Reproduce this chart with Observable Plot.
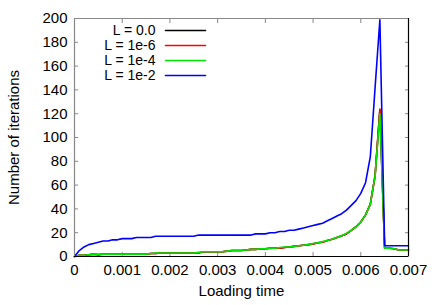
<!DOCTYPE html>
<html>
<head>
<meta charset="utf-8">
<script src="https://cdn.jsdelivr.net/npm/d3@7"></script>
<script src="https://cdn.jsdelivr.net/npm/@observablehq/plot@0.6"></script>
<style>
  html, body { margin: 0; padding: 0; background: #fff; }
  svg { font-family: "Liberation Sans", Arial, sans-serif; }
</style>
</head>
<body>
<div id="chart"></div>
<script>
// Loading time samples (x)
const times = d3.range(0, 71).map(i => +(i * 0.0001).toFixed(4));

// Number of iterations for each series
const iterL0 = [0,1,1,1.5,2,1.5,2,2,2,2, 2,2,2,2,2,2,2.5,2.5,3,3, 3,3,3,3,3,3,3,4,4,4, 4,4,4.5,5,5,5,5.5,6,6,6.5, 6.5,7,7,7,7.5,8,8.5,9,9.5,10, 10.5,11.5,12,13.5,14.5,16,17.5,19,22,25, 29,35,44,68,123,7,7,6.5,5.5,5.5, 5.5];
const iterL6 = [0,1,1,1.5,2,1.5,2,2,2,2, 2,2,2,2,2,2,2.5,2.5,3,3, 3,3,3,3,3,3,3,4,4,4, 4,4,4.5,5,5,5,5.5,6,6,6.5, 6.5,7,7,7,7.5,8,8.5,9,9.5,10, 10.5,11.5,12,13.5,14.5,16,17.5,19,22,25, 29,35,44,68,124,7,7,6.5,5.5,5.5, 5.5];
const iterL4 = [0,1,1,1.5,2,2,2,2,2,2, 2,2,2,2,2,2,2.5,3,3,3, 3,3,3,3,3,3,3.5,4,4,4, 4,4,4.5,5,5,5,5.5,6,6,6.5, 6.5,7,7,7.5,8,8,8.5,9,9.5,10, 11,11.5,12.5,13.5,14.5,16,17.5,19.5,22,25, 29,35,44,68,120,7,7,6.5,5.5,5.5, 5.5];
const iterL2 = [0,5,8,10,11,12,13,13,14,14, 15,15,15,16,16,16,16,17,17,17, 17,17,17,17,17,17,18,18,18,18, 18,18,18,18,18,18,18,18,19,19, 19,20,20,21,21,22,22,23,24,25, 26,27,28,30,32,34,36,39,43,47, 53,62,84,142,199,9,9,9,9,9, 9];

const seriesLabels = ["L = 0.0", "L = 1e-6", "L = 1e-4", "L = 1e-2"];
const seriesColors = ["#000000", "#ff0000", "#00e600", "#0000ff"];
const seriesValues = [iterL0, iterL6, iterL4, iterL2];

const xTicks = [0, 0.001, 0.002, 0.003, 0.004, 0.005, 0.006, 0.007];
const xTickLabels = ["0", "0.001", "0.002", "0.003", "0.004", "0.005", "0.006", "0.007"];
const yTicks = [0, 20, 40, 60, 80, 100, 120, 140, 160, 180, 200];

const rows = [];
seriesValues.forEach((vals, s) => {
  vals.forEach((v, i) => rows.push({series: seriesLabels[s], t: times[i], n: v}));
});

const lineShape = {draw(ctx, l) { ctx.moveTo(0, 0); ctx.lineTo(0, -l); }};

const legendMarks = [];
seriesLabels.forEach((lab, i) => {
  legendMarks.push(Plot.text([lab], {
    frameAnchor: "top-left", text: d => d, dx: 81, dy: 12 + i * 15,
    textAnchor: "end", lineAnchor: "middle", fontSize: 14, fill: "#000"
  }));
  legendMarks.push(Plot.vector([lab], {
    frameAnchor: "top-left", dx: 91, dy: 12 + i * 15, length: 40, rotate: 90,
    anchor: "start", shape: lineShape, stroke: seriesColors[i], strokeWidth: 1.6
  }));
});

const chart = Plot.plot({
  width: 436,
  height: 305,
  marginLeft: 74,
  marginRight: 28,
  marginTop: 18,
  marginBottom: 49,
  style: {fontSize: "15px", fontFamily: "Liberation Sans, Arial, sans-serif", color: "#000", background: "#fff"},
  x: {domain: [0, 0.007], label: null},
  y: {domain: [0, 200], label: null},
  marks: [
    Plot.axisX({anchor: "bottom", ticks: xTicks, tickFormat: (d, i) => xTickLabels[i], tickSize: -4, tickPadding: 12, stroke: "#888", fontSize: 15}),
    Plot.axisX({anchor: "top", ticks: xTicks, tickFormat: () => "", tickSize: -4, stroke: "#888"}),
    Plot.axisY({anchor: "left", ticks: yTicks, tickSize: -4, tickPadding: 11, stroke: "#888", fontSize: 15}),
    Plot.axisY({anchor: "right", ticks: yTicks, tickFormat: () => "", tickSize: -4, stroke: "#888"}),
    Plot.text(["Loading time"], {frameAnchor: "bottom", text: d => d, dy: 39, fontSize: 15}),
    Plot.text(["Number of iterations"], {frameAnchor: "left", text: d => d, dx: -60, rotate: -90, textAnchor: "middle", lineAnchor: "middle", fontSize: 15}),
    Plot.line(rows, {x: "t", y: "n", z: "series", stroke: d => seriesColors[seriesLabels.indexOf(d.series)], strokeWidth: 1.6}),
    Plot.ruleX([0], {stroke: "#888", strokeWidth: 1.2}),
    Plot.ruleY([200], {stroke: "#888", strokeWidth: 1.2}),
    Plot.ruleX([0.007], {stroke: "#000", strokeWidth: 1.2}),
    Plot.ruleY([0], {stroke: "#000", strokeWidth: 1.2}),
    ...legendMarks
  ]
});
document.getElementById("chart").appendChild(chart);
</script>
</body>
</html>
